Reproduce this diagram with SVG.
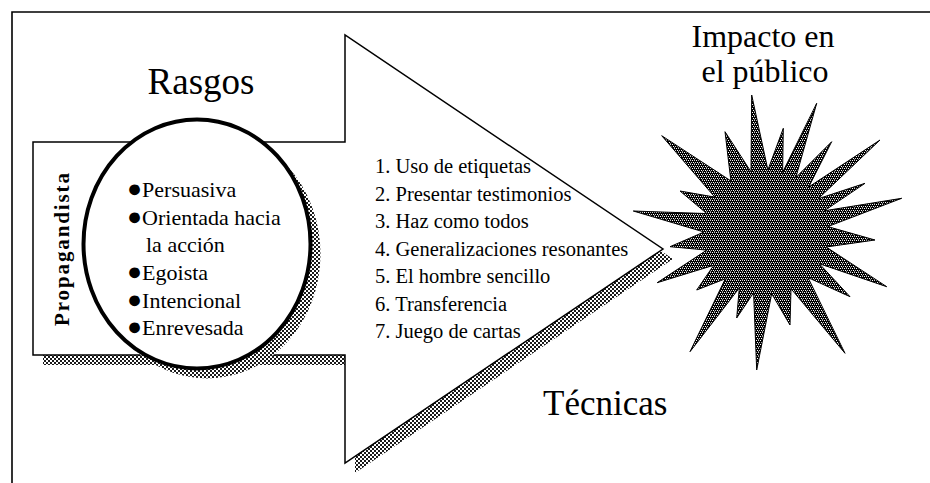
<svg xmlns="http://www.w3.org/2000/svg" width="930" height="483" viewBox="0 0 930 483">
<defs>
<pattern id="shade" width="4" height="4" patternUnits="userSpaceOnUse">
<rect width="4" height="4" fill="#ffffff"/>
<rect x="0" y="0" width="2" height="2" fill="#1a1a1a"/>
<rect x="2" y="2" width="2" height="2" fill="#1a1a1a"/>
</pattern>
<pattern id="dark" width="4" height="4" patternUnits="userSpaceOnUse">
<rect width="4" height="4" fill="#000"/>
<rect x="0" y="0" width="1" height="1" fill="#fff"/>
<rect x="2" y="0" width="1" height="1" fill="#ccc"/>
<rect x="1" y="2" width="1" height="1" fill="#fff"/>
<rect x="3" y="2" width="1" height="1" fill="#ccc"/>
<rect x="2" y="3" width="1" height="1" fill="#888"/>
</pattern>
<style>
.frame{fill:none;stroke:#000;stroke-width:1.6}
.shape{fill:#fff;stroke:#000;stroke-width:1.5}
.shadow{fill:url(#shade);stroke:none}
.b{font-size:25px}
</style>
</defs>
<rect width="930" height="483" fill="#fff"/>
<g id="frame">
<path class="frame" d="M12,483 V12 H930"/>
</g>
<g id="arrow">
<polygon class="shadow" points="43,152 355,152 355,45 673,259 355,473 355,365 43,365"/>
<polygon class="shape" points="33,142 345,142 345,35 663,249 345,463 345,355 33,355"/>
</g>
<g id="rasgos-circle">
<ellipse class="shadow" cx="207" cy="254" rx="113.5" ry="124.5"/>
<ellipse cx="197" cy="244" rx="113.5" ry="124.5" fill="#fff" stroke="#000" stroke-width="4"/>
</g>
<g id="texts" font-family="'Liberation Serif', 'Times New Roman', 'DejaVu Serif', serif" fill="#000">
<g id="propagandista">
<text transform="translate(69,249.5) rotate(-90)" text-anchor="middle" font-size="21" font-weight="bold" textLength="153" lengthAdjust="spacing">Propagandista</text>
</g>
<g id="rasgos-label">
<text x="201" y="94" text-anchor="middle" font-size="37">Rasgos</text>
</g>
<g id="rasgos-list" font-size="22">
<text x="127" y="197"><tspan class="b">●</tspan>Persuasiva</text>
<text x="127" y="225"><tspan class="b">●</tspan>Orientada hacia</text>
<text x="146" y="252">la acción</text>
<text x="127" y="280"><tspan class="b">●</tspan>Egoista</text>
<text x="127" y="307.5"><tspan class="b">●</tspan>Intencional</text>
<text x="127" y="335"><tspan class="b">●</tspan>Enrevesada</text>
</g>
<g id="tecnicas-list" font-size="20.5">
<text x="375" y="173">1. Uso de etiquetas</text>
<text x="375" y="200.5">2. Presentar testimonios</text>
<text x="375" y="228">3. Haz como todos</text>
<text x="375" y="255.5">4. Generalizaciones resonantes</text>
<text x="375" y="283">5. El hombre sencillo</text>
<text x="375" y="310.5">6. Transferencia</text>
<text x="375" y="338">7. Juego de cartas</text>
</g>
<g id="tecnicas-label">
<text x="543" y="415" font-size="35">Técnicas</text>
</g>
</g>
<g id="impacto">
<polygon fill="url(#dark)" stroke="#000" stroke-width="1" points="633.3,211 706.8,213.6 680,191 714.8,197.1 661.7,135.7 730.9,180.9 725,131.7 751,171.8 751.7,95 767.9,170 783.3,128.3 782.6,172.3 816.7,103.3 795.8,177.6 831.7,141.7 808.7,187 880,140 818.3,198.7 865,183.3 824.3,210.8 901.7,198.3 827.8,226.6 875,240 826.2,247 886.7,286.7 819.3,263.7 850,296.7 808,277.6 845,353.3 791,288.7 790,325 771.7,293.7 756.7,370 753.6,292.8 736.7,318 739.3,288 690,351.7 725.3,278.8 696.7,290 713.7,265.3 657.2,282.7 706.7,250.1 670,246.7 704,232"/>
<text x="763" y="47" text-anchor="middle" font-size="32" font-family="'Liberation Serif', 'Times New Roman', 'DejaVu Serif', serif">Impacto en</text>
<text x="765" y="82" text-anchor="middle" font-size="32" font-family="'Liberation Serif', 'Times New Roman', 'DejaVu Serif', serif">el público</text>
</g>
</svg>
